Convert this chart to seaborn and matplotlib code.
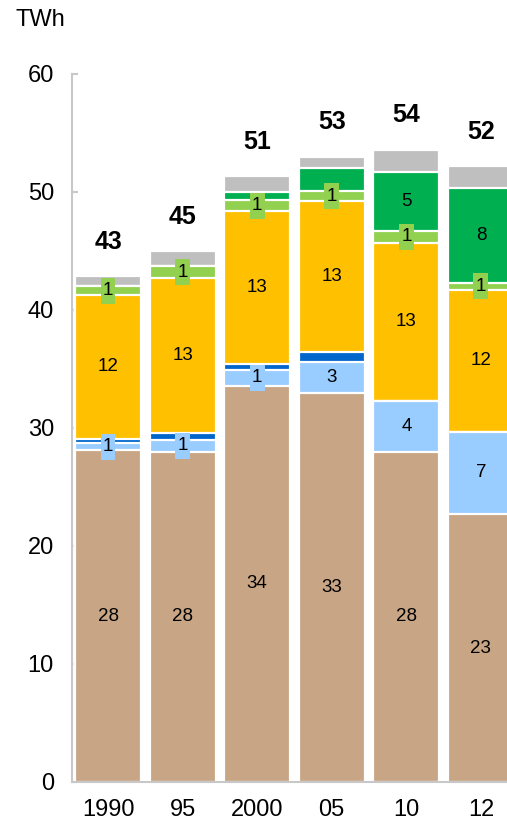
import numpy as np
import pandas as pd
import matplotlib
matplotlib.use("Agg")
import matplotlib.pyplot as plt
from matplotlib.patches import Rectangle
import seaborn as sns

# Electricity generation by source, TWh
years = ["1990", "95", "2000", "05", "10", "12"]
coal = [28.1, 28.0, 33.6, 33.0, 28.0, 22.7]
gas = [0.6, 1.0, 1.3, 2.6, 4.3, 7.0]
oil = [0.4, 0.6, 0.5, 0.8, 0.0, 0.0]
nuclear = [12.2, 13.1, 13.0, 12.8, 13.4, 12.0]
hydro = [0.7, 1.0, 0.9, 0.85, 1.0, 0.6]
wind = [0.0, 0.0, 0.7, 1.95, 5.0, 8.0]
other = [0.9, 1.3, 1.35, 1.0, 1.9, 1.9]

# (name, values, colour, label style, minimum value that gets a label)
series = [
    ("coal", coal, "#C8A584", "plain", 0.0),
    ("gas", gas, "#99CCFF", "box_small", 0.0),
    ("oil", oil, "#0066CC", None, 0.0),
    ("nuclear", nuclear, "#FFC000", "plain", 0.0),
    ("hydro", hydro, "#92D050", "box_small", 0.0),
    ("wind", wind, "#00B050", "plain", 3.0),
    ("other", other, "#BFBFBF", None, 0.0),
]

sns.set_theme(style="white")
plt.rcParams["font.family"] = ["Liberation Sans", "DejaVu Sans"]

fig = plt.figure(figsize=(5.07, 8.26), dpi=100)
ax = fig.add_axes([72 / 507, 1 - 782 / 826, 1 - 72 / 507, (782 - 74) / 826])

# cumulative tops for each layer
vals = np.array([s[1] for s in series])
tops = np.cumsum(vals, axis=0)
bottoms = tops - vals

bar_w = 0.885
# draw from the tallest cumulative layer down so each layer overlays the one above
for k in range(len(series) - 1, -1, -1):
    name, v, color, _, _ = series[k]
    df = pd.DataFrame({"year": years, "value": tops[k]})
    sns.barplot(data=df, x="year", y="value", order=years, color=color,
                width=bar_w, edgecolor="white", linewidth=1.6,
                errorbar=None, saturation=1, ax=ax)

# segment labels
for k, (name, v, color, style, vmin) in enumerate(series):
    if style is None:
        continue
    for i in range(len(years)):
        if v[i] <= 0 or v[i] < vmin:
            continue
        yc = (bottoms[k, i] + tops[k, i]) / 2
        if style == "box_small" and v[i] < 2:
            ax.add_patch(Rectangle((i - 0.1, yc - 1.1), 0.2, 2.2,
                                   facecolor=color, edgecolor="none", zorder=5))
        ax.text(i, yc, f"{v[i]:.0f}", ha="center", va="center",
                fontsize=13.5, color="black", zorder=6)

# totals above each bar
totals = tops[-1]
for i, t in enumerate(totals):
    ax.text(i, t + 2.9, f"{t:.0f}", ha="center", va="center",
            fontsize=18, fontweight="bold", color="black")

ax.set_ylim(0, 60)
ax.set_xlim(-0.483, 5.35)
ax.set_yticks(range(0, 61, 10))
ax.set_xlabel("")
ax.set_ylabel("")

for side in ["top", "right"]:
    ax.spines[side].set_visible(False)
for side in ["left", "bottom"]:
    ax.spines[side].set_color("#C8C8C8")
    ax.spines[side].set_linewidth(1.5)
ax.spines["left"].set_zorder(0)

ax.tick_params(axis="y", direction="in", length=4, width=1.5, color="#C8C8C8",
               labelsize=17, labelcolor="black", pad=13, left=True)
ax.tick_params(axis="x", length=0, labelsize=17, labelcolor="black", pad=12)
ax.grid(False)

fig.text(15 / 507, 1 - 20 / 826, "TWh", ha="left", va="center", fontsize=17,
         color="black")

fig.savefig("out.png", dpi=100)
